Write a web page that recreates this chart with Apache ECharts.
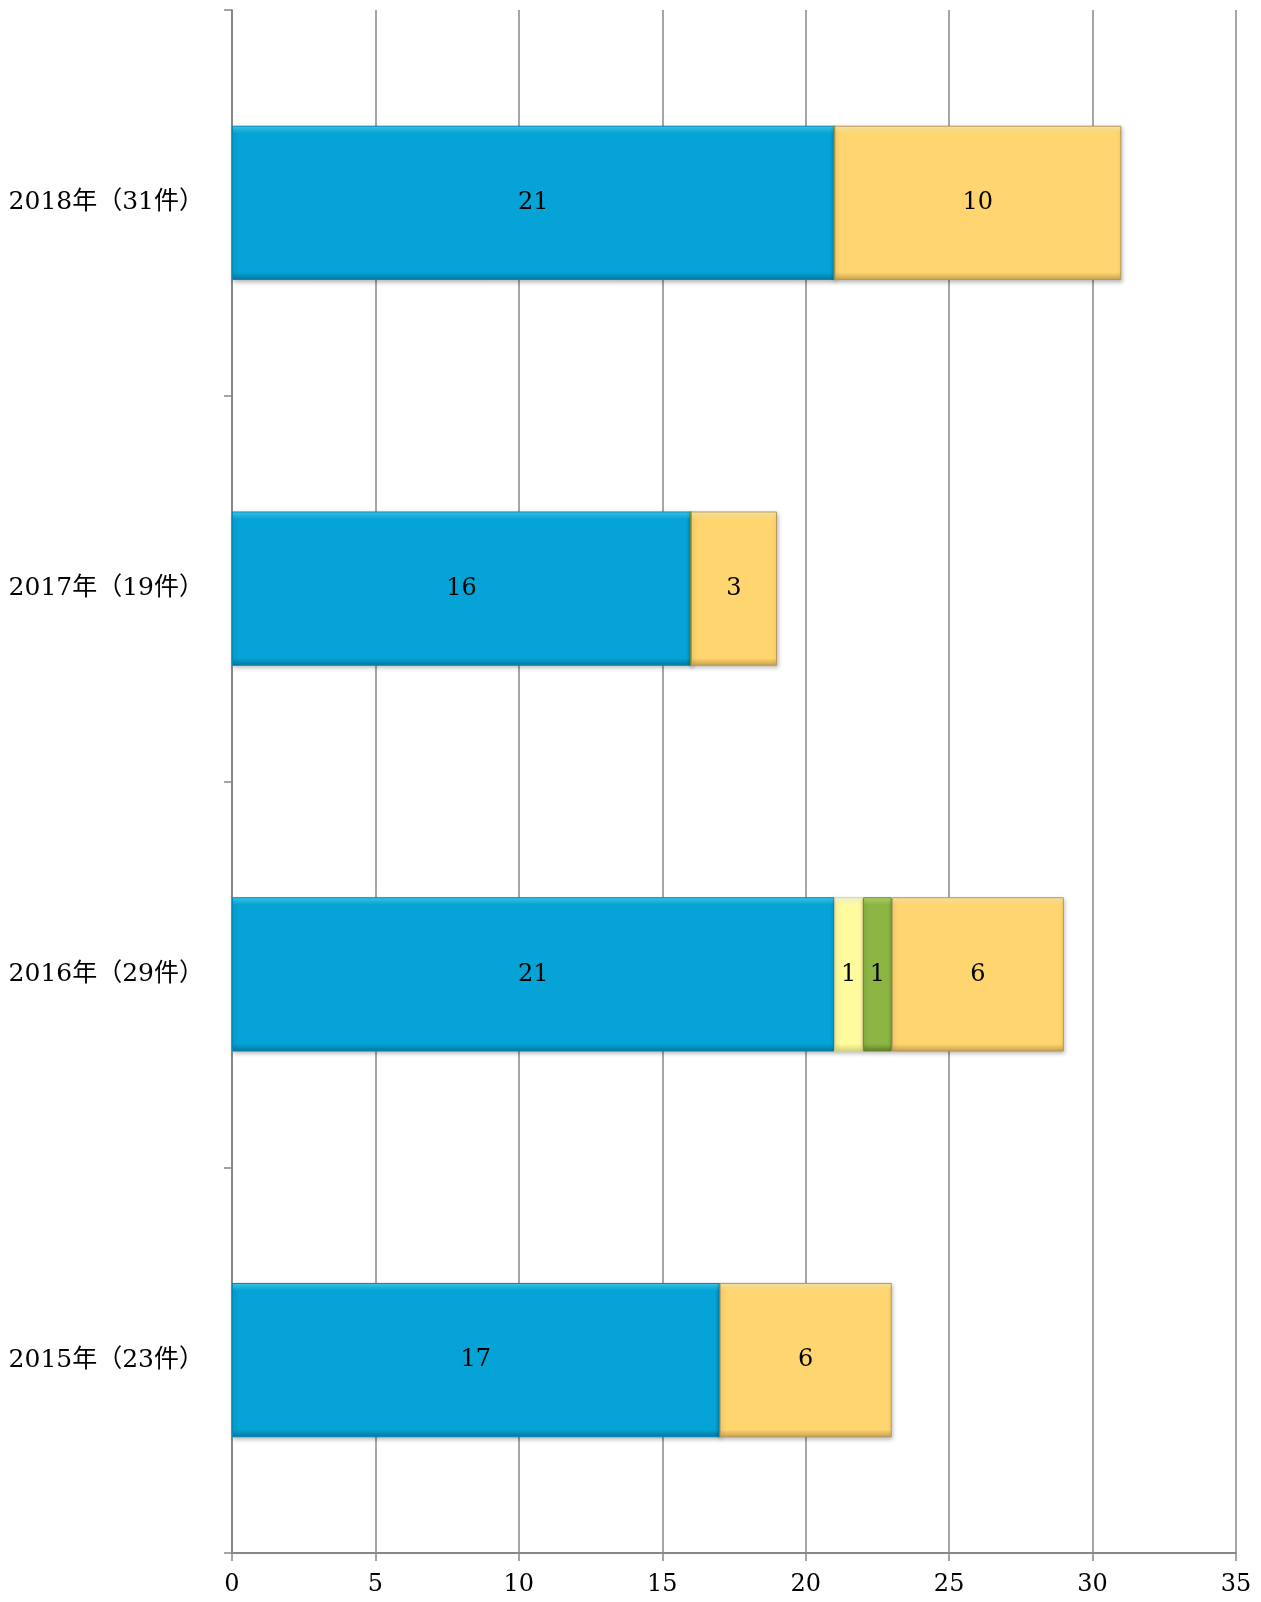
<!DOCTYPE html>
<html><head><meta charset="utf-8">
<script src="https://cdn.jsdelivr.net/npm/echarts@6/dist/echarts.min.js"></script>
<style>html,body{margin:0;padding:0;background:#fff}#c{width:1261px;height:1602px}</style>
</head><body><div id="c"></div>
<script>
const categories = ['2015年（23件）', '2016年（29件）', '2017年（19件）', '2018年（31件）'];
const seriesBlue = [17, 21, 16, 21];
const seriesLightYellow = [0, 1, 0, 0];
const seriesGreen = [0, 1, 0, 0];
const seriesOrange = [6, 6, 3, 10];
const xTicks = [0, 5, 10, 15, 20, 25, 30, 35];

const FONT = "'DejaVu Serif', 'Liberation Serif', 'Noto Sans CJK JP', serif";

function grad(light, base, dark) {
  return new echarts.graphic.LinearGradient(0, 0, 0, 1, [
    {offset: 0, color: light},
    {offset: 0.05, color: base},
    {offset: 0.95, color: base},
    {offset: 1, color: dark}
  ]);
}
function mk(name, data, light, base, dark, border) {
  return {
    name, type: 'bar', stack: 'total', data, barWidth: '40%',
    itemStyle: {color: grad(light, base, dark), borderColor: border, borderWidth: 1,
      shadowColor: 'rgba(0,0,0,0.25)', shadowBlur: 4, shadowOffsetX: 1, shadowOffsetY: 2},
    label: {show: true, position: 'inside', color: '#000', fontFamily: FONT, fontSize: 24,
      formatter: p => p.value > 0 ? String(p.value) : ''}
  };
}
const chart = echarts.init(document.getElementById('c'));
chart.setOption({
  animation: false,
  backgroundColor: '#fff',
  grid: {left: 232, right: 25, top: 10, bottom: 49, containLabel: false},
  xAxis: {
    type: 'value', min: 0, max: 35, interval: 5,
    axisLine: {show: true, lineStyle: {color: '#888', width: 2}},
    axisTick: {show: true, length: 8, lineStyle: {color: '#888', width: 1.5}},
    splitLine: {show: true, lineStyle: {color: '#888', width: 1.5}},
    axisLabel: {color: '#000', fontFamily: FONT, fontSize: 24, margin: 20,
      formatter: v => xTicks.includes(v) ? String(v) : ''}
  },
  yAxis: {
    type: 'category', data: categories,
    axisLine: {show: true, lineStyle: {color: '#888', width: 2}},
    axisTick: {show: true, length: 8, lineStyle: {color: '#888', width: 1.5}},
    axisLabel: {color: '#000', fontFamily: FONT, fontSize: 25, margin: 28}
  },
  series: [
    mk('A', seriesBlue, '#3fd0f5', '#05A3D6', '#04789e', '#0488b5'),
    mk('B', seriesLightYellow, '#fffde0', '#FDFB9E', '#d8d67a', '#d9d78a'),
    mk('C', seriesGreen, '#b8de6a', '#8CB544', '#5e7f28', '#6a8c30'),
    mk('D', seriesOrange, '#fff0a8', '#FED56F', '#c9a24e', '#b8975a')
  ]
});
</script></body></html>
